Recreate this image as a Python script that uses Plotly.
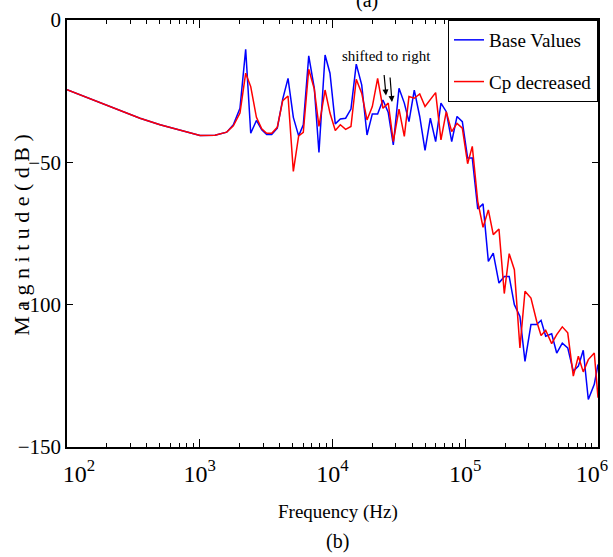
import plotly.graph_objects as go

# log10 of frequency (Hz) at each sample point
freq_exp = [2.000, 2.098, 2.249, 2.399, 2.550, 2.701, 2.851, 3.002, 3.115, 3.203,
            3.253, 3.303, 3.346, 3.384, 3.427, 3.467, 3.504, 3.542, 3.584, 3.625,
            3.665, 3.705, 3.745, 3.780, 3.821, 3.863, 3.898, 3.944, 3.981, 4.021,
            4.059, 4.099, 4.139, 4.179, 4.220, 4.260, 4.300, 4.340, 4.380, 4.420,
            4.458, 4.501, 4.541, 4.576, 4.616, 4.657, 4.697, 4.737, 4.777, 4.817,
            4.857, 4.898, 4.938, 4.978, 5.018, 5.053, 5.094, 5.134, 5.174, 5.211,
            5.254, 5.294, 5.331, 5.370, 5.412, 5.450, 5.495, 5.538, 5.571, 5.606,
            5.651, 5.689, 5.731, 5.772, 5.814, 5.852, 5.889, 5.927, 5.972, 6.000]

base_values = [-24.5, -26.3, -29.0, -31.8, -34.5, -36.8, -38.8, -40.6, -40.5, -39.4,
               -36.8, -31.0, -10.3, -39.8, -35.3, -38.6, -40.2, -40.2, -38.0, -27.8,
               -20.5, -34.2, -40.7, -36.8, -12.6, -24.0, -46.5, -12.3, -18.7, -36.5,
               -34.8, -34.5, -31.3, -15.5, -22.8, -40.4, -33.0, -33.0, -28.1, -32.5,
               -43.9, -24.0, -29.2, -35.7, -24.6, -33.9, -45.8, -34.5, -42.7, -29.2,
               -32.2, -42.7, -33.9, -35.7, -48.5, -48.5, -66.4, -64.6, -84.8, -81.9,
               -92.4, -90.1, -90.1, -100.0, -104.1, -119.9, -107.0, -107.0, -105.5, -111.1,
               -110.2, -117.0, -113.5, -115.2, -123.4, -121.6, -116.0, -133.3, -128.0, -121.0]

cp_decreased = [-24.5, -26.3, -29.0, -31.8, -34.5, -36.8, -38.8, -40.6, -40.5, -39.4,
                -37.2, -32.7, -18.7, -23.4, -34.2, -38.2, -39.8, -39.8, -37.7, -28.3,
                -26.7, -53.2, -40.7, -39.5, -17.3, -24.3, -37.4, -24.6, -32.7, -38.8,
                -36.8, -38.4, -37.4, -20.8, -25.7, -35.1, -30.4, -20.5, -31.0, -29.2,
                -42.7, -31.3, -40.9, -26.9, -27.5, -26.0, -30.4, -27.8, -25.5, -42.1,
                -32.2, -39.2, -36.3, -38.0, -50.5, -44.4, -63.7, -72.8, -66.7, -75.4,
                -73.4, -96.1, -82.1, -87.7, -115.2, -95.3, -97.7, -105.8, -110.8, -109.0,
                -113.7, -110.5, -107.8, -109.9, -125.1, -118.1, -123.6, -119.3, -117.0, -132.7]

series_names = ["Base Values", "Cp decreased"]
y_ticks = [0, -50, -100, -150]
x_tick_values = [1e2, 1e3, 1e4, 1e5, 1e6]
x_tick_labels = ["10<sup>2</sup>", "10<sup>3</sup>", "10<sup>4</sup>", "10<sup>5</sup>", "10<sup>6</sup>"]

freq = [10 ** e for e in freq_exp]
FONT = "Liberation Serif"

# first label nudged right, last one nudged left (as in the original figure)
NB = "&nbsp;"
x_tick_text = list(x_tick_labels)
x_tick_text[0] = NB * 4 + x_tick_text[0]
x_tick_text[-1] = x_tick_text[-1] + NB * 2

fig = go.Figure()
fig.add_trace(go.Scatter(x=freq, y=base_values, mode="lines", name=series_names[0],
                         legendgroup="a", line=dict(color="#0000ff", width=1.5)))
fig.add_trace(go.Scatter(x=freq, y=cp_decreased, mode="lines", name=series_names[1],
                         legendgroup="b", line=dict(color="#ff0000", width=1.5)))

fig.update_layout(
    width=613, height=557,
    margin=dict(l=67, r=15, t=20, b=110, autoexpand=False),
    paper_bgcolor="white", plot_bgcolor="white",
    font=dict(family=FONT, size=20, color="black"),
    showlegend=True,
    legend=dict(x=1, xanchor="right", y=1, yanchor="top",
                bordercolor="black", borderwidth=1, bgcolor="white",
                font=dict(family=FONT, size=19), tracegroupgap=14,
                itemwidth=30),
    xaxis=dict(type="log", range=[2, 6], tickvals=x_tick_values, ticktext=x_tick_text,
               automargin=False, ticklabeloverflow="allow", ticklabelstandoff=4,
               showgrid=False, zeroline=False, showline=True, linecolor="black",
               linewidth=1.5, mirror="ticks", ticks="inside", ticklen=8,
               tickcolor="black",
               minor=dict(ticks="inside", ticklen=4, tickcolor="black", showgrid=False,
                          dtick="D1"),
               tickfont=dict(family=FONT, size=24)),
    yaxis=dict(range=[-150, 0], tickvals=y_ticks, showgrid=False, zeroline=False,
               automargin=False, ticklabeloverflow="allow",
               showline=True, linecolor="black", linewidth=1.5, mirror="ticks",
               ticks="inside", ticklen=6, tickcolor="black",
               tickfont=dict(family=FONT, size=21)),
    annotations=[
        dict(text="M a g n i t u d e ( d B )", x=-0.0847, y=0.497, xref="paper", yref="paper",
             textangle=-90, xanchor="center", yanchor="middle", showarrow=False,
             font=dict(family=FONT, size=22)),
        dict(text="Frequency (Hz)", x=0.51, y=-0.152, xref="paper", yref="paper",
             xanchor="center", yanchor="middle", showarrow=False,
             font=dict(family=FONT, size=19)),
        dict(text="shifted to right", x=4.405, y=-12.5, xref="x", yref="y",
             showarrow=False, font=dict(family=FONT, size=15)),
        dict(text="", x=4.403, y=-26.5, xref="x", yref="y", showarrow=True,
             ax=-2, ay=-22, arrowhead=2, arrowsize=1, arrowwidth=1.2, arrowcolor="black"),
        dict(text="", x=4.448, y=-28.8, xref="x", yref="y", showarrow=True,
             ax=-2, ay=-26, arrowhead=2, arrowsize=1, arrowwidth=1.2, arrowcolor="black"),
        dict(text="(b)", x=0.51, y=-0.222, xref="paper", yref="paper",
             xanchor="center", yanchor="middle", showarrow=False,
             font=dict(family=FONT, size=20)),
        dict(text="(a)", x=0.565, y=1.015, xref="paper", yref="paper",
             xanchor="center", yanchor="bottom", showarrow=False,
             font=dict(family=FONT, size=20)),
    ],
)

fig.write_html("out.html", config={"displayModeBar": False},
               post_script="document.body.style.margin='0';document.body.style.overflow='hidden';")
